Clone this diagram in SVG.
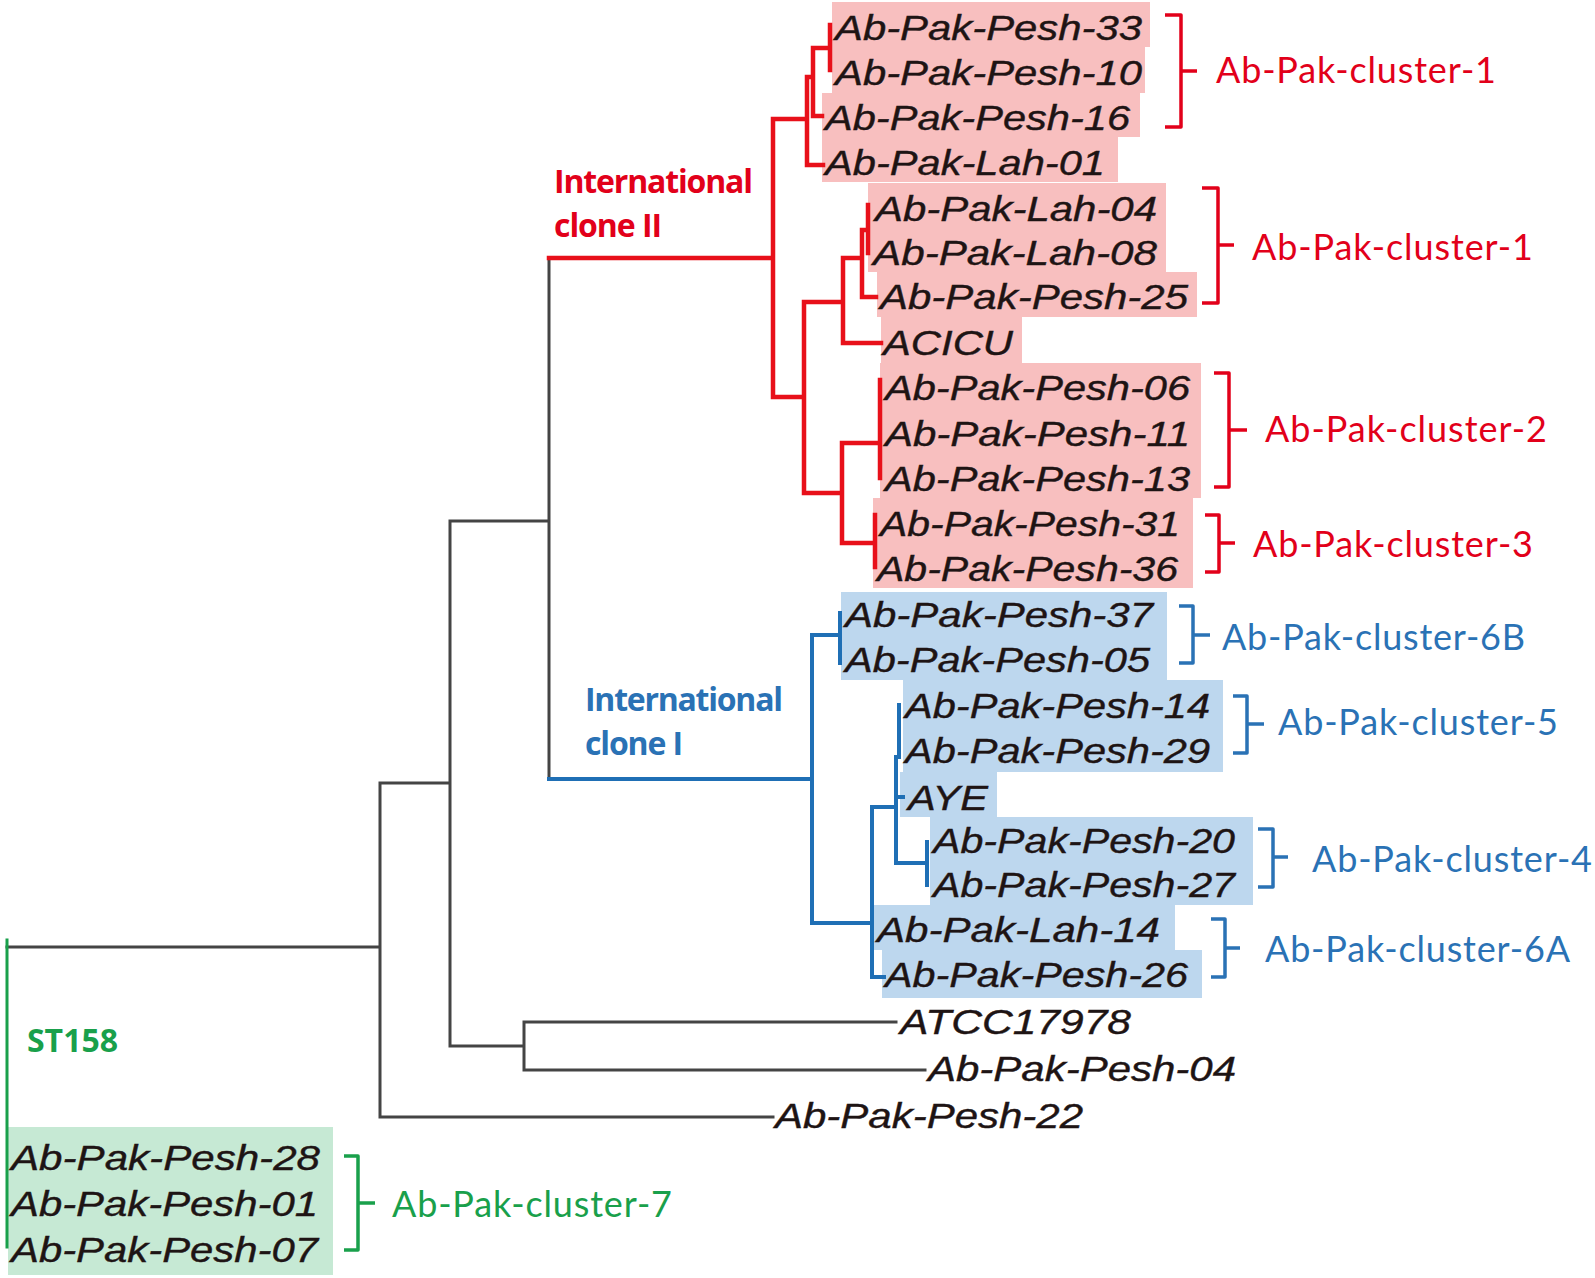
<svg xmlns="http://www.w3.org/2000/svg" width="1595" height="1278" viewBox="0 0 1595 1278">
<style>
.lbl{font-family:"Liberation Sans",Arial,sans-serif;font-style:italic;font-size:35px;fill:#1e1414;stroke:#1e1414;stroke-width:0.4}
.cl{font-family:Lato,"Liberation Sans",sans-serif;font-size:36px}
.clade{font-family:"Open Sans","Liberation Sans",sans-serif;font-weight:700;font-size:32px}
.red{fill:#e2001a}.blue{fill:#2a72b5}.green{fill:#19a04b}
.pink{fill:#f8bfbf}.lblue{fill:#bdd7ee}.lgreen{fill:#c6e9d4}
.e{fill:none;stroke-linecap:square}
.eb{stroke:#444;stroke-width:3}
.er{stroke:#e8101a;stroke-width:4.5}
.eu{stroke:#1f6fb5;stroke-width:4}
.eg{stroke:#19a04b;stroke-width:3}
.br{fill:none;stroke-width:3.5;stroke-linejoin:round}
</style>
<rect width="1595" height="1278" fill="#fff"/>

<g id="backgrounds">
<rect class="pink" x="832" y="2" width="318" height="45"/>
<rect class="pink" x="832" y="47" width="313" height="46"/>
<rect class="pink" x="822" y="93" width="318" height="44"/>
<rect class="pink" x="822" y="137" width="296" height="45"/>
<rect class="pink" x="868" y="183" width="298" height="89"/>
<rect class="pink" x="877" y="272" width="320" height="45"/>
<rect class="pink" x="881" y="317" width="141" height="46"/>
<rect class="pink" x="880" y="363" width="321" height="135"/>
<rect class="pink" x="873" y="498" width="320" height="90"/>
<rect class="lblue" x="841" y="592" width="326" height="88"/>
<rect class="lblue" x="903" y="680" width="320" height="92"/>
<rect class="lblue" x="900" y="772" width="97" height="45"/>
<rect class="lblue" x="930" y="817" width="323" height="88"/>
<rect class="lblue" x="873" y="905" width="302" height="45"/>
<rect class="lblue" x="882" y="950" width="320" height="48"/>
<rect class="lgreen" x="8" y="1127" width="325" height="148"/>
</g>

<g id="connectors">
<path class="e eb" d="M7,947 H380 M380,783 V1117 M380,783 H450 M380,1117 H773 M450,521 V1046 M450,521 H549 M450,1046 H524 M524,1022 V1070 M524,1022 H896 M524,1070 H925 M549,258 V779"/>
<path class="e er" d="M549,258 H773 M773,119 V397 M773,119 H807 M807,77 V165 M807,165 H823 M807,77 H813 M813,48 V116 M813,116 H822 M813,48 H830 M830,25 V70 M773,397 H804 M804,302 V493 M804,302 H843 M843,258 V343 M843,343 H881 M843,258 H862 M862,230 V297 M862,297 H876 M862,230 H868 M868,205 V253 M804,493 H842 M842,443 V543 M842,443 H880 M880,380 V478 M842,543 H873 M875,515 V567"/>
<path class="e eu" d="M549,779 H812 M812,635 V923 M812,635 H840 M840,613 V663 M812,923 H872 M872,807 V977 M872,977 H884 M872,807 H896 M896,757 V863 M899,705 V757 M896,797 H903 M896,863 H927 M927,842 V885"/>
<path class="e eg" d="M7,940 V1247"/>
</g>

<g id="node-pesh33"><text class="lbl" x="835" y="40" textLength="307" lengthAdjust="spacingAndGlyphs">Ab-Pak-Pesh-33</text></g>
<g id="node-pesh10"><text class="lbl" x="835" y="85" textLength="307" lengthAdjust="spacingAndGlyphs">Ab-Pak-Pesh-10</text></g>
<g id="node-pesh16"><text class="lbl" x="825" y="130" textLength="305" lengthAdjust="spacingAndGlyphs">Ab-Pak-Pesh-16</text></g>
<g id="node-lah01"><text class="lbl" x="825" y="175" textLength="280" lengthAdjust="spacingAndGlyphs">Ab-Pak-Lah-01</text></g>
<g id="node-lah04"><text class="lbl" x="875" y="221" textLength="282" lengthAdjust="spacingAndGlyphs">Ab-Pak-Lah-04</text></g>
<g id="node-lah08"><text class="lbl" x="873" y="265" textLength="284" lengthAdjust="spacingAndGlyphs">Ab-Pak-Lah-08</text></g>
<g id="node-pesh25"><text class="lbl" x="880" y="309" textLength="308" lengthAdjust="spacingAndGlyphs">Ab-Pak-Pesh-25</text></g>
<g id="node-acicu"><text class="lbl" x="883" y="355" textLength="130" lengthAdjust="spacingAndGlyphs">ACICU</text></g>
<g id="node-pesh06"><text class="lbl" x="885" y="400" textLength="305" lengthAdjust="spacingAndGlyphs">Ab-Pak-Pesh-06</text></g>
<g id="node-pesh11"><text class="lbl" x="885" y="446" textLength="305" lengthAdjust="spacingAndGlyphs">Ab-Pak-Pesh-11</text></g>
<g id="node-pesh13"><text class="lbl" x="885" y="491" textLength="305" lengthAdjust="spacingAndGlyphs">Ab-Pak-Pesh-13</text></g>
<g id="node-pesh31"><text class="lbl" x="880" y="536" textLength="300" lengthAdjust="spacingAndGlyphs">Ab-Pak-Pesh-31</text></g>
<g id="node-pesh36"><text class="lbl" x="877" y="581" textLength="301" lengthAdjust="spacingAndGlyphs">Ab-Pak-Pesh-36</text></g>
<g id="node-pesh37"><text class="lbl" x="845" y="627" textLength="308" lengthAdjust="spacingAndGlyphs">Ab-Pak-Pesh-37</text></g>
<g id="node-pesh05"><text class="lbl" x="845" y="672" textLength="305" lengthAdjust="spacingAndGlyphs">Ab-Pak-Pesh-05</text></g>
<g id="node-pesh14"><text class="lbl" x="905" y="718" textLength="305" lengthAdjust="spacingAndGlyphs">Ab-Pak-Pesh-14</text></g>
<g id="node-pesh29"><text class="lbl" x="905" y="763" textLength="305" lengthAdjust="spacingAndGlyphs">Ab-Pak-Pesh-29</text></g>
<g id="node-aye"><text class="lbl" x="908" y="810" textLength="80" lengthAdjust="spacingAndGlyphs">AYE</text></g>
<g id="node-pesh20"><text class="lbl" x="933" y="853" textLength="302" lengthAdjust="spacingAndGlyphs">Ab-Pak-Pesh-20</text></g>
<g id="node-pesh27"><text class="lbl" x="933" y="897" textLength="302" lengthAdjust="spacingAndGlyphs">Ab-Pak-Pesh-27</text></g>
<g id="node-lah14"><text class="lbl" x="877" y="942" textLength="283" lengthAdjust="spacingAndGlyphs">Ab-Pak-Lah-14</text></g>
<g id="node-pesh26"><text class="lbl" x="885" y="987" textLength="303" lengthAdjust="spacingAndGlyphs">Ab-Pak-Pesh-26</text></g>
<g id="node-atcc"><text class="lbl" x="900" y="1034" textLength="231" lengthAdjust="spacingAndGlyphs">ATCC17978</text></g>
<g id="node-pesh04"><text class="lbl" x="928" y="1081" textLength="308" lengthAdjust="spacingAndGlyphs">Ab-Pak-Pesh-04</text></g>
<g id="node-pesh22"><text class="lbl" x="775" y="1128" textLength="308" lengthAdjust="spacingAndGlyphs">Ab-Pak-Pesh-22</text></g>
<g id="node-pesh28"><text class="lbl" x="11" y="1170" textLength="309" lengthAdjust="spacingAndGlyphs">Ab-Pak-Pesh-28</text></g>
<g id="node-pesh01"><text class="lbl" x="11" y="1216" textLength="307" lengthAdjust="spacingAndGlyphs">Ab-Pak-Pesh-01</text></g>
<g id="node-pesh07"><text class="lbl" x="11" y="1262" textLength="307" lengthAdjust="spacingAndGlyphs">Ab-Pak-Pesh-07</text></g>

<g id="clade-ic2">
<text class="clade red" x="554" y="193" textLength="199" lengthAdjust="spacing">International</text>
<text class="clade red" x="554" y="237" textLength="108" lengthAdjust="spacing">clone II</text>
</g>
<g id="clade-ic1">
<text class="clade blue" x="585" y="711" textLength="198" lengthAdjust="spacing">International</text>
<text class="clade blue" x="585" y="755" textLength="98" lengthAdjust="spacing">clone I</text>
</g>
<g id="clade-st158">
<text class="clade green" x="27" y="1052" textLength="91" lengthAdjust="spacing">ST158</text>
</g>

<g id="cluster-1a">
<path class="br" stroke="#e2001a" d="M1165,15 H1181 V127 H1165 M1181,71 H1197"/>
<text class="cl red" x="1216" y="83" textLength="280" lengthAdjust="spacing">Ab-Pak-cluster-1</text>
</g>
<g id="cluster-1b">
<path class="br" stroke="#e2001a" d="M1202,188 H1218 V303 H1202 M1218,245 H1234"/>
<text class="cl red" x="1252" y="260" textLength="281" lengthAdjust="spacing">Ab-Pak-cluster-1</text>
</g>
<g id="cluster-2">
<path class="br" stroke="#e2001a" d="M1214,373 H1229 V487 H1214 M1229,430 H1247"/>
<text class="cl red" x="1265" y="442" textLength="282" lengthAdjust="spacing">Ab-Pak-cluster-2</text>
</g>
<g id="cluster-3">
<path class="br" stroke="#e2001a" d="M1205,515 H1219 V572 H1205 M1219,543 H1235"/>
<text class="cl red" x="1253" y="557" textLength="280" lengthAdjust="spacing">Ab-Pak-cluster-3</text>
</g>
<g id="cluster-6b">
<path class="br" stroke="#2a72b5" d="M1179,606 H1193 V663 H1179 M1193,635 H1210"/>
<text class="cl blue" x="1222" y="650" textLength="303" lengthAdjust="spacing">Ab-Pak-cluster-6B</text>
</g>
<g id="cluster-5">
<path class="br" stroke="#2a72b5" d="M1233,696 H1247 V753 H1233 M1247,724 H1264"/>
<text class="cl blue" x="1278" y="735" textLength="280" lengthAdjust="spacing">Ab-Pak-cluster-5</text>
</g>
<g id="cluster-4">
<path class="br" stroke="#2a72b5" d="M1258,829 H1273 V887 H1258 M1273,857 H1288"/>
<text class="cl blue" x="1312" y="872" textLength="280" lengthAdjust="spacing">Ab-Pak-cluster-4</text>
</g>
<g id="cluster-6a">
<path class="br" stroke="#2a72b5" d="M1211,919 H1225 V977 H1211 M1225,948 H1240"/>
<text class="cl blue" x="1265" y="962" textLength="305" lengthAdjust="spacing">Ab-Pak-cluster-6A</text>
</g>
<g id="cluster-7">
<path class="br" stroke="#19a04b" d="M344,1156 H358 V1250 H344 M358,1203 H375"/>
<text class="cl green" x="392" y="1217" textLength="280" lengthAdjust="spacing">Ab-Pak-cluster-7</text>
</g>
</svg>
